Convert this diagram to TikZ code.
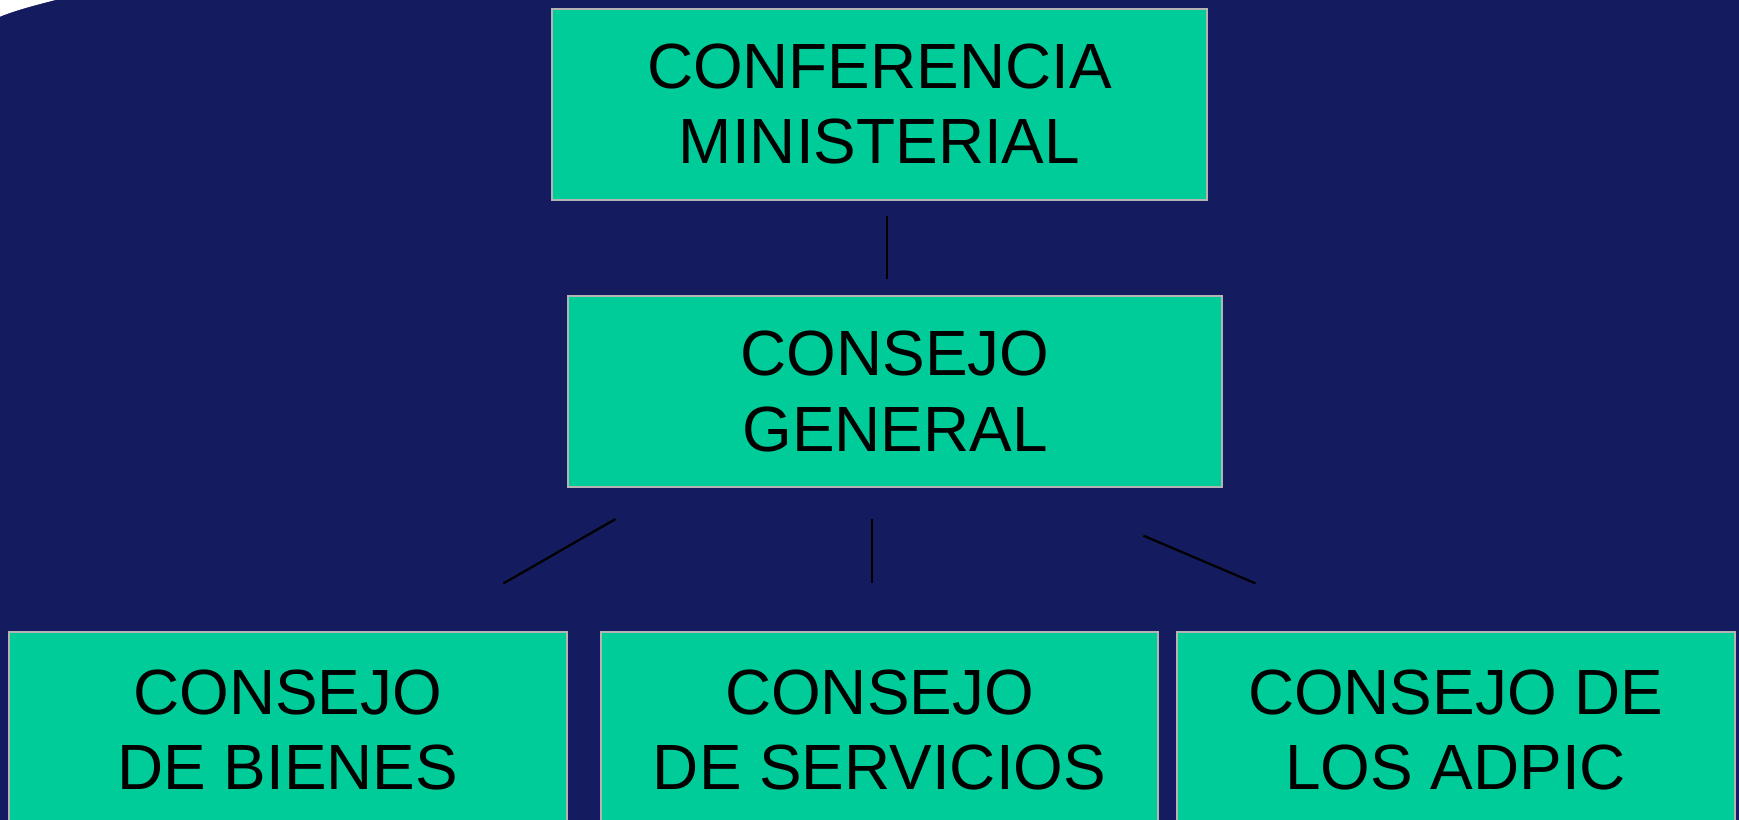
\documentclass[tikz,border=0pt]{standalone}
\usepackage{fontspec}
\setmainfont{Liberation Sans}
\definecolor{bg}{HTML}{141B5F}
\definecolor{boxfill}{HTML}{00CC99}
\definecolor{boxline}{HTML}{B4B4B4}
\begin{document}
\begin{tikzpicture}[x=0.5pt,y=-0.5pt,
  orgbox/.style={draw=boxline, line width=0.9pt, fill=boxfill, rectangle, inner sep=0pt,
    align=center, font=\fontsize{28.8}{34}\selectfont, text=black},
  topbox/.style={orgbox, minimum width=295pt, minimum height=86pt},
  lowbox/.style={orgbox, minimum width=251.5pt, minimum height=88pt},
  link/.style={draw=black, line width=1pt}]
\fill[bg] (0,0) rectangle (1568,739);
\useasboundingbox (0,0) rectangle (1568,739);
\fill[white] (0,0) -- (50,0) .. controls (30,5) and (12,10) .. (0,15) -- cycle;
\node[topbox] (conf) at (793,94) {CONFERENCIA\\MINISTERIAL};
\node[topbox] (gen) at (807,353) {CONSEJO\\GENERAL};
\node[lowbox] (bienes) at (259.5,658) {CONSEJO\\DE BIENES};
\node[lowbox] (serv) at (793,658) {CONSEJO\\DE SERVICIOS};
\node[lowbox] (adpic) at (1312.5,658) {CONSEJO DE\\LOS ADPIC};
\coordinate (c1a) at (800,195);
\coordinate (c1b) at (800,252);
\coordinate (c2a) at (555,468);
\coordinate (c2b) at (454,526);
\coordinate (c3a) at (786,468);
\coordinate (c3b) at (786,526);
\coordinate (c4a) at (1031,483);
\coordinate (c4b) at (1132,526);
\draw[link] (c1a) -- (c1b);
\draw[link] (c2a) -- (c2b);
\draw[link] (c3a) -- (c3b);
\draw[link] (c4a) -- (c4b);
\end{tikzpicture}
\end{document}
